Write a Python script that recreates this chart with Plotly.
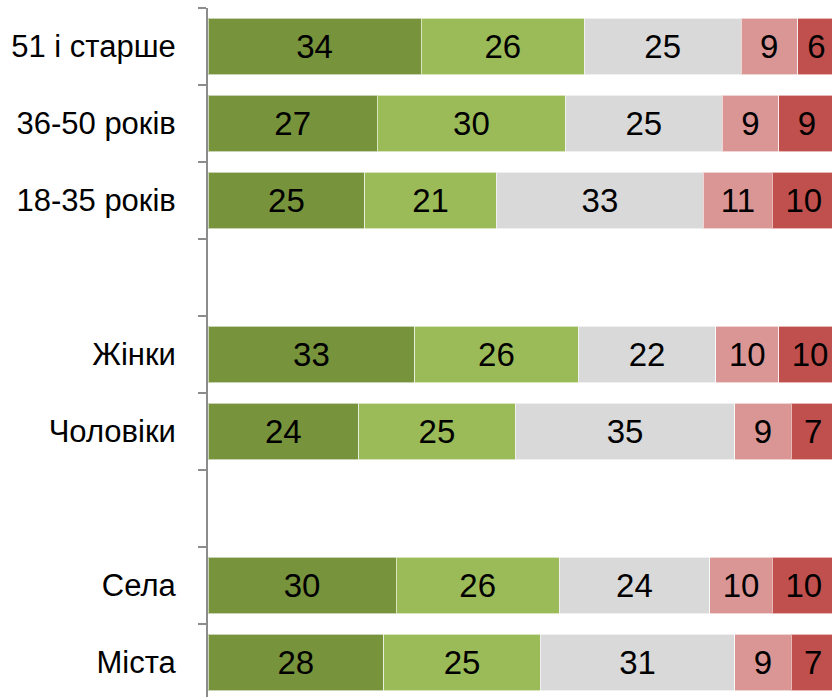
import plotly.graph_objects as go

# categories listed bottom to top; blank entries are the gaps between groups
categories = ["Міста", "Села", " ", "Чоловіки", "Жінки", "  ", "18-35 років", "36-50 років", "51 і старше"]

seg1 = [28, 30, None, 24, 33, None, 25, 27, 34]
seg2 = [25, 26, None, 25, 26, None, 21, 30, 26]
seg3 = [31, 24, None, 35, 22, None, 33, 25, 25]
seg4 = [9, 10, None, 9, 10, None, 11, 9, 9]
seg5 = [7, 10, None, 7, 10, None, 10, 9, 6]

colors = ["#77933C", "#9BBB59", "#D9D9D9", "#DA9694", "#C0504D"]
font_name = "Liberation Sans Narrow, Arial Narrow, Liberation Sans, Arial"

fig = go.Figure()
for vals, col in zip([seg1, seg2, seg3, seg4, seg5], colors):
    fig.add_trace(go.Bar(
        y=categories, x=vals, orientation="h",
        marker=dict(color=col, line=dict(color="rgba(255,255,255,0.6)", width=1)),
        text=[str(v) if v is not None else "" for v in vals],
        textposition="inside", insidetextanchor="middle", textangle=0,
        constraintext="none",
        textfont=dict(family=font_name, size=33, color="black"),
        showlegend=False, hoverinfo="skip",
    ))

fig.update_layout(
    barmode="stack", bargap=0.27,
    width=832, height=697,
    margin=dict(l=208, r=0, t=8, b=0),
    paper_bgcolor="white", plot_bgcolor="white",
    font=dict(family=font_name, size=32, color="black"),
)
fig.update_xaxes(range=[0, 99.5], visible=False, showgrid=False, zeroline=False)
fig.update_yaxes(
    type="category", categoryorder="array", categoryarray=categories,
    range=[-0.448, 8.5],
    showline=True, linecolor="#8C8C8C", linewidth=2,
    ticks="outside", tickson="boundaries", ticklen=8, tickcolor="#8C8C8C", tickwidth=2,
    ticklabelstandoff=24, showgrid=False, zeroline=False,
    tickfont=dict(family=font_name, size=31, color="black"),
)

# drop the default page margin so the figure sits at the window's corner
fig.write_html("out.html", config={"displayModeBar": False},
               post_script="document.body.style.margin = '0';")
